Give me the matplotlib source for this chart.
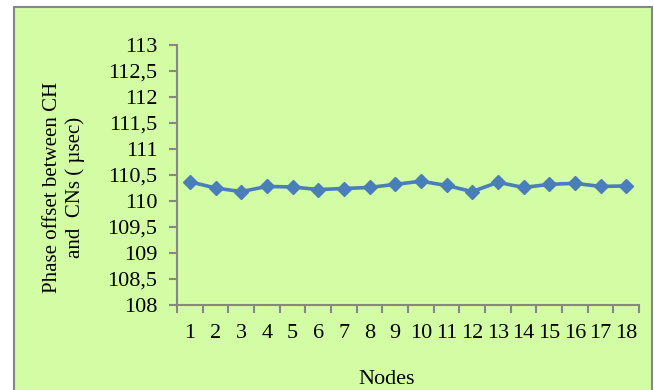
import numpy as np
import matplotlib
matplotlib.use("Agg")
from matplotlib import pyplot as plt
from matplotlib.patches import Rectangle
from matplotlib.ticker import FixedLocator, FuncFormatter

# Phase offset per node (usec)
nodes = list(range(1, 19))
phase_offset = [110.37, 110.25, 110.18, 110.28, 110.27, 110.22, 110.24, 110.26, 110.32,
                110.38, 110.30, 110.18, 110.36, 110.26, 110.32, 110.34, 110.28, 110.29]
y_ticks = [108, 108.5, 109, 109.5, 110, 110.5, 111, 111.5, 112, 112.5, 113]

panel_green = "#d3fda5"
axis_gray = "#868686"
line_blue = "#4a7ebb"

plt.rcParams['font.family'] = ['Liberation Serif', 'DejaVu Serif']

fig = plt.figure(figsize=(6.54, 3.9), dpi=100)
fig.patch.set_facecolor("white")

# green chart area with a grey frame, running off the right and bottom edges
panel = Rectangle((13.5 / 654, -0.05), (652 - 13.5) / 654, 1.05 - 7 / 390,
                  transform=fig.transFigure, facecolor=panel_green,
                  edgecolor=axis_gray, linewidth=1.5, zorder=-10)
fig.add_artist(panel)

ax = fig.add_axes([177 / 654, 1 - 305 / 390, (639 - 177) / 654, (305 - 45) / 390])
ax.set_zorder(1)
ax.set_facecolor("none")
ax.plot(nodes, phase_offset, color=line_blue, linewidth=2.6, marker="D",
        markersize=7, markerfacecolor=line_blue, markeredgecolor=line_blue, clip_on=False)

ax.set_xlim(0.5, 18.5)
ax.set_ylim(108, 113)
ax.set_yticks(y_ticks)
ax.yaxis.set_major_formatter(FuncFormatter(lambda v, p: ("%g" % v).replace(".", ",")))
ax.set_xticks(nodes)
ax.xaxis.set_minor_locator(FixedLocator(np.arange(0.5, 19, 1)))

for side in ("top", "right"):
    ax.spines[side].set_visible(False)
for side in ("left", "bottom"):
    ax.spines[side].set_color(axis_gray)
    ax.spines[side].set_linewidth(1.5)

ax.tick_params(axis="y", direction="out", length=6, width=1.5, color=axis_gray,
               labelsize=16, pad=8)
ax.tick_params(axis="x", which="major", length=0, labelsize=16, pad=14)
ax.tick_params(axis="x", which="minor", direction="out", length=6, width=1.5, color=axis_gray)

fig.text(64 / 654, 1 - 187 / 390, "Phase offset between CH\nand  CNs ( \u00b5sec)",
         rotation=90, ha="center", va="center", fontsize=15, linespacing=1.2)
fig.text(387 / 654, 1 - 379 / 390, "Nodes", ha="center", va="center", fontsize=16)

fig.savefig("out.png", dpi=100)
